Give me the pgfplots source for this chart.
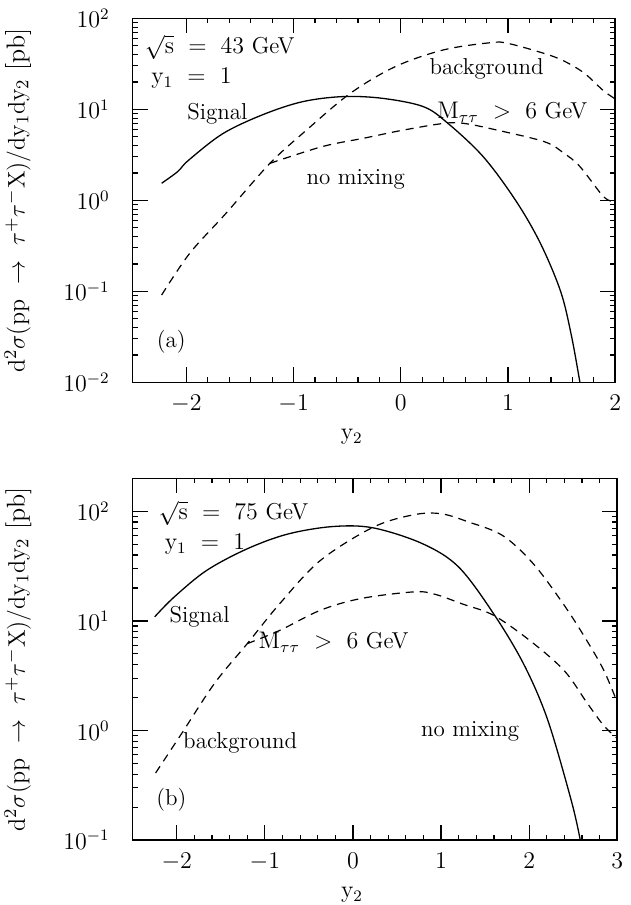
\documentclass[border=0pt]{standalone}
\usepackage{pgfplots}
\pgfplotsset{compat=1.18}
\pgfplotsset{
  mypanel/.style={
    scale only axis, clip=true,
    axis line style={line width=0.8pt},
    major tick length=7.5pt, minor tick length=2.5pt,
    every tick/.style={line width=0.6pt, black},
    minor x tick num=4,
    tick label style={font=\fontsize{12}{14}\selectfont},
    xlabel={$\mathrm{y_2}$},
    ylabel={$\mathrm{d^2\sigma(pp\ \to\ \tau^+\tau^-X)/dy_1dy_2}$ [pb]},
    ylabel style={anchor=center, font=\fontsize{13}{15}\selectfont},
    xlabel style={anchor=center, font=\fontsize{12}{14}\selectfont},
    xticklabel style={yshift=-3pt},
    yticklabel style={xshift=-8pt},
  },
}
\tikzset{
  sig/.style={black, line width=0.65pt, smooth, tension=0.55},
  bkg/.style={black, line width=0.6pt, smooth, tension=0.55, dash pattern=on 4pt off 3pt},
  lab/.style={font=\fontsize{11.5}{13}\selectfont, inner sep=0pt},
}
\begin{document}
\begin{tikzpicture}[font=\fontsize{10}{12}\selectfont]
\path[use as bounding box] (-66.35pt,-261.35pt) rectangle (249.15pt,191.15pt);
% ---------- panel (a)
\begin{axis}[mypanel, ymode=log, at={(0pt,0pt)}, anchor=south west,
  width=241.3pt, height=182pt,
  xmin=-2.5, xmax=2, ymin=1e-2, ymax=1e2,
  xtick={-2,-1,0,1,2},
  ylabel style={at={(axis description cs:-0.238,0.5)}},
  xlabel style={at={(axis description cs:0.454,0)}, yshift=-27.3pt}]
\addplot[sig] coordinates {
(-2.23,1.54) (-2.08,2.07) (-1.98,2.75) (-1.66,5.4) (-1.29,8.7) (-0.92,12.1)
(-0.54,13.8) (-0.17,13.2) (0.21,10.7) (0.44,7.0) (0.77,3.0) (1.07,1.0)
(1.30,0.34) (1.49,0.10) (1.59,0.033) (1.67,0.01)};
\addplot[bkg] coordinates {
(-2.23,0.091) (-1.97,0.26) (-1.63,0.72) (-1.22,2.55) (-0.88,5.9) (-0.47,15)
(-0.05,29.5) (0.40,45) (0.84,54) (1.0,53) (1.34,41) (1.52,34) (1.71,25)
(1.89,16) (2.0,13)};
\addplot[bkg] coordinates {
(-1.22,2.55) (-0.73,3.9) (-0.35,4.8) (0.02,5.9) (0.40,7.0) (0.59,7.0)
(0.90,5.9) (1.34,4.4) (1.52,3.3) (1.67,2.35) (1.89,1.1) (2.0,0.95)};
\node[lab, anchor=west] at (axis cs:-2.39,48) {$\sqrt{\mathrm{s}}\ =\ 43$ GeV};
\node[lab, anchor=west] at (axis cs:-2.33,22) {$\mathrm{y_1}\ =\ 1$};
\node[lab] at (axis cs:-1.71,9.0) {Signal};
\node[lab] at (axis cs:0.80,28) {background};
\node[lab] at (axis cs:1.04,9.3) {$\mathrm{M_{\tau\tau}}\ >\ 6$ GeV};
\node[lab] at (axis cs:-0.42,1.7) {no mixing};
\node[lab] at (axis cs:-2.14,0.028) {(a)};
\end{axis}
% ---------- panel (b)
\begin{axis}[mypanel, ymode=log, at={(0pt,-228.9pt)}, anchor=south west,
  width=242.3pt, height=180.9pt,
  xmin=-2.5, xmax=3, ymin=1e-1, ymax=200,
  xtick={-2,-1,0,1,2,3},
  ylabel style={at={(axis description cs:-0.237,0.5)}},
  xlabel style={at={(axis description cs:0.4525,0)}, yshift=-27.3pt}]
\addplot[sig] coordinates {
(-2.25,10.9) (-2.03,16.5) (-1.66,28.9) (-1.20,45.5) (-0.74,62) (-0.23,72.6)
(0.23,70.6) (0.79,50.6) (1.20,31) (1.60,11.5) (1.94,4.0) (2.21,1.25)
(2.48,0.226) (2.58,0.1)};
\addplot[bkg] coordinates {
(-2.24,0.41) (-1.94,0.95) (-1.57,2.7) (-1.20,6.2) (-0.83,14.4) (-0.37,35.6)
(0.23,71.6) (0.69,93) (1.0,95) (1.31,80) (1.70,60) (2.05,33) (2.40,13.8)
(2.66,6.5) (2.85,3.5) (3.0,1.8)};
\addplot[bkg] coordinates {
(-1.20,6.2) (-0.83,8.2) (-0.37,12.5) (0.09,16) (0.69,18.4) (0.93,17.5)
(1.25,14.2) (1.60,11.2) (2.02,6.5) (2.40,3.5) (2.66,1.77) (2.85,1.1) (3.0,0.85)};
\node[lab, anchor=west] at (axis cs:-2.21,96) {$\sqrt{\mathrm{s}}\ =\ 75$ GeV};
\node[lab, anchor=west] at (axis cs:-2.14,50) {$\mathrm{y_1}\ =\ 1$};
\node[lab] at (axis cs:-1.74,10.9) {Signal};
\node[lab] at (axis cs:-0.22,6.4) {$\mathrm{M_{\tau\tau}}\ >\ 6$ GeV};
\node[lab] at (axis cs:-1.28,0.77) {background};
\node[lab] at (axis cs:1.33,0.98) {no mixing};
\node[lab] at (axis cs:-2.06,0.235) {(b)};
\end{axis}
\end{tikzpicture}
\end{document}
